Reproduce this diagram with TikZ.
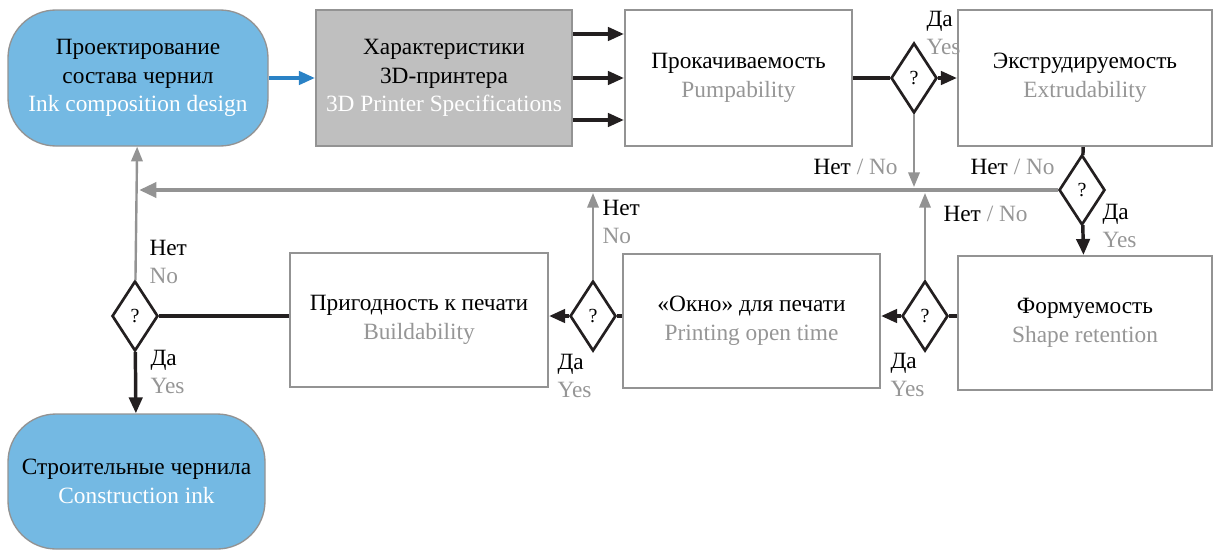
\documentclass[tikz,border=0pt]{standalone}
\usepackage{fontspec}
\setmainfont{Liberation Serif}
\newfontfamily\serifface{Liberation Serif}
\usetikzlibrary{shapes.geometric,arrows.meta}

\definecolor{inkblue}{RGB}{116,185,227}
\definecolor{linkblue}{RGB}{42,130,198}
\definecolor{boxgray}{RGB}{191,191,191}
\definecolor{edgegray}{RGB}{147,147,147}
\definecolor{txtgray}{RGB}{150,150,150}
\definecolor{inkblack}{RGB}{35,31,32}

\newcommand{\engray}[1]{{\color{txtgray}#1}}
\newcommand{\enwhite}[1]{{\color{white}#1}}

\tikzset{every picture/.style={line width=0.75pt}}
\tikzset{
  txt/.style={font=\serifface\fontsize{17.5}{21.5}\selectfont, align=center, inner sep=0pt, text=black},
  startbox/.style={txt, draw=edgegray, line width=1pt, fill=inkblue, rounded corners=36pt},
  specbox/.style={txt, draw=edgegray, line width=1.6pt, fill=boxgray},
  testbox/.style={txt, draw=edgegray, line width=1.6pt, fill=white},
  query/.style={diamond, draw=inkblack, line width=2pt, fill=white, minimum width=34.5pt, minimum height=52.5pt, inner sep=0pt, font=\serifface\fontsize{15}{16}\selectfont},
  yesline/.style={draw=inkblack, line width=2.6pt},
  yesarrow/.style={yesline, -{Triangle[length=12pt,width=10pt]}},
  noarrow/.style={draw=edgegray, line width=1.8pt, -{Triangle[length=11pt,width=8.5pt]}},
  feedback/.style={draw=edgegray, line width=3.6pt, -{Triangle[length=13pt,width=11pt]}},
  lbl/.style={font=\serifface\fontsize{17.5}{21.5}\selectfont, inner sep=0pt, align=left, anchor=west},
}

\begin{document}
\begin{tikzpicture}[x=0.75pt,y=0.75pt,yscale=-1,xscale=1]
\useasboundingbox (0,0) rectangle (1216,550);

%Shape: Rounded Rectangle [design]
\node[startbox, minimum width=195pt, minimum height=102pt] (design) at (138,78) {Проектирование\\состава чернил\\\enwhite{Ink composition design}};
%Shape: Rectangle [printer]
\node[specbox, minimum width=192pt, minimum height=102pt] (printer) at (444,78) {Характеристики\\3D-принтера\\\enwhite{3D Printer Specifications}};
%Shape: Rectangle [pump]
\node[testbox, minimum width=170.25pt, minimum height=102pt] (pump) at (738.5,78) {Прокачиваемость\\\engray{Pumpability}};
%Shape: Rectangle [extr]
\node[testbox, minimum width=190.5pt, minimum height=102pt] (extr) at (1085,78) {Экструдируемость\\\engray{Extrudability}};
%Shape: Rectangle [shape]
\node[testbox, minimum width=190.5pt, minimum height=100.5pt] (shape) at (1085,323) {Формуемость\\\engray{Shape retention}};
%Shape: Rectangle [open]
\node[testbox, minimum width=192.75pt, minimum height=100.5pt] (open) at (751.5,321) {«Окно» для печати\\\engray{Printing open time}};
%Shape: Rectangle [build]
\node[testbox, minimum width=193.5pt, minimum height=100.5pt] (build) at (419,320) {Пригодность к печати\\\engray{Buildability}};
%Shape: Rounded Rectangle [ink]
\node[startbox, minimum width=192.75pt, minimum height=101.25pt] (ink) at (136.5,481.5) {Строительные чернила\\\enwhite{Construction ink}};

%Shape: Diamond
\node[query] (q1) at (914,78) {?};
\node[query] (q2) at (1082,190) {?};
\node[query] (q3) at (925,316) {?};
\node[query] (q4) at (593,316) {?};
\node[query] (q5) at (135,316) {?};

%Free ends
\coordinate (back) at (139,190);
\coordinate (n1) at (914,187);
\coordinate (n3) at (925,193);
\coordinate (n4) at (593,193);

%Straight Lines
\draw[draw=linkblue, line width=2.6pt, -{Triangle[length=12pt,width=10pt]}] (design) -- (printer);
\draw[yesarrow] ([yshift=31.5pt]printer.east) -- ([yshift=31.5pt]pump.west);
\draw[yesarrow] (printer.east) -- (pump.west);
\draw[yesarrow] ([yshift=-33pt]printer.east) -- ([yshift=-33pt]pump.west);
\draw[yesline] (pump) -- (q1);
\draw[yesarrow] (q1) -- (extr);
\draw[noarrow] (q1) -- (n1);
\draw[yesline] (extr) -- (q2);
\draw[feedback] (q2) -- (back);
\draw[yesarrow] (q2) -- (shape);
\draw[yesline] (shape.west |- q3) -- (q3);
\draw[yesarrow] (q3) -- (open.east |- q3);
\draw[noarrow] (q3) -- (n3);
\draw[yesline] (open.west |- q4) -- (q4);
\draw[yesarrow] (q4) -- (build.east |- q4);
\draw[noarrow] (q4) -- (n4);
\draw[yesline] (build.west |- q5) -- (q5);
\draw[noarrow] (q5) -- (design);
\draw[yesarrow] (q5) -- (ink);

% Text Node
\node[lbl] (q1yes) at (926,33) {Да\\\engray{Yes}};
% Text Node
\node[lbl] (q1no) at (813,167) {Нет \engray{/ No}};
% Text Node
\node[lbl] (q2no) at (970,167) {Нет \engray{/ No}};
% Text Node
\node[lbl] (q2yes) at (1102,226) {Да\\\engray{Yes}};
% Text Node
\node[lbl] (q3no) at (943,214) {Нет \engray{/ No}};
% Text Node
\node[lbl] (q3yes) at (890,375) {Да\\\engray{Yes}};
% Text Node
\node[lbl] (q4no) at (602,222) {Нет\\\engray{No}};
% Text Node
\node[lbl] (q4yes) at (557,376) {Да\\\engray{Yes}};
% Text Node
\node[lbl] (q5no) at (149,262) {Нет\\\engray{No}};
% Text Node
\node[lbl] (q5yes) at (150,372) {Да\\\engray{Yes}};

\end{tikzpicture}
\end{document}
